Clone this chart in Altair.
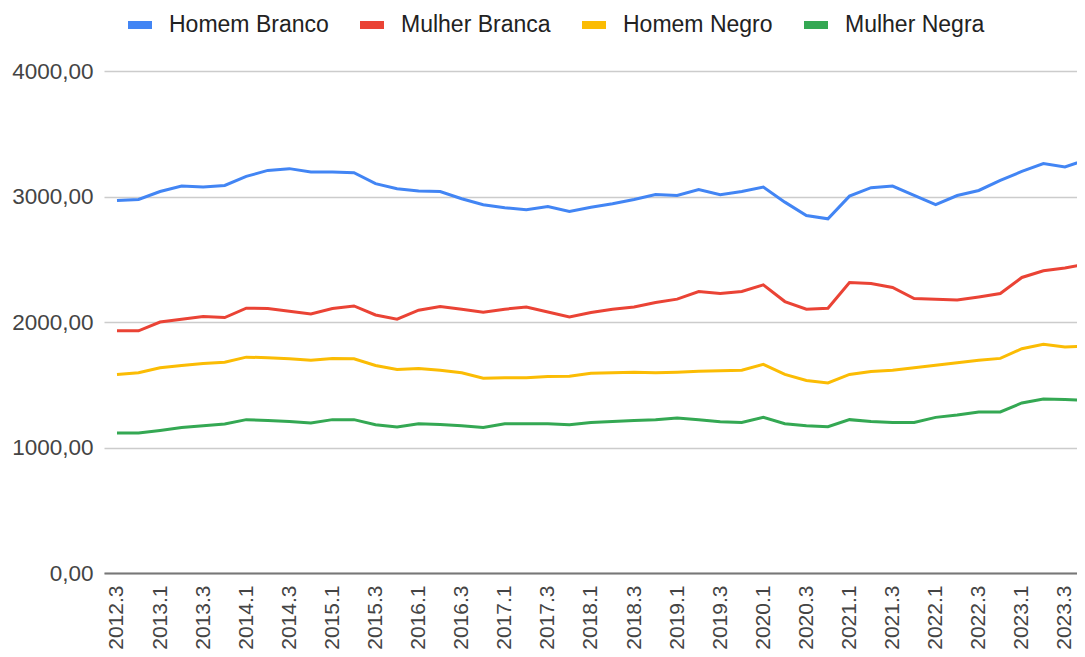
import altair as alt
import pandas as pd

quarters = [
    "2012.3", "2012.4",
    "2013.1", "2013.2", "2013.3", "2013.4",
    "2014.1", "2014.2", "2014.3", "2014.4",
    "2015.1", "2015.2", "2015.3", "2015.4",
    "2016.1", "2016.2", "2016.3", "2016.4",
    "2017.1", "2017.2", "2017.3", "2017.4",
    "2018.1", "2018.2", "2018.3", "2018.4",
    "2019.1", "2019.2", "2019.3", "2019.4",
    "2020.1", "2020.2", "2020.3", "2020.4",
    "2021.1", "2021.2", "2021.3", "2021.4",
    "2022.1", "2022.2", "2022.3", "2022.4",
    "2023.1", "2023.2", "2023.3", "2023.4",
]

homem_branco = [2968, 2976, 3040, 3083, 3075, 3088, 3160, 3208, 3222, 3195,
                3195, 3190, 3102, 3062, 3043, 3040, 2982, 2934, 2910, 2894,
                2920, 2880, 2915, 2942, 2976, 3016, 3008, 3056, 3014, 3040,
                3075, 2955, 2848, 2822, 3003, 3070, 3083, 3008, 2936, 3008,
                3048, 3128, 3200, 3262, 3235, 3294]
mulher_branca = [1930, 1930, 2000, 2022, 2043, 2035, 2110, 2107, 2086, 2064,
                 2107, 2128, 2056, 2022, 2094, 2123, 2102, 2078, 2102, 2120,
                 2080, 2040, 2075, 2102, 2120, 2155, 2182, 2243, 2227, 2243,
                 2296, 2163, 2102, 2110, 2315, 2307, 2275, 2187, 2182, 2176,
                 2200, 2227, 2355, 2408, 2430, 2462]
homem_negro = [1582, 1595, 1635, 1654, 1670, 1680, 1720, 1715, 1707, 1696,
               1710, 1707, 1654, 1622, 1630, 1616, 1595, 1552, 1555, 1555,
               1566, 1568, 1592, 1595, 1600, 1595, 1600, 1608, 1611, 1616,
               1662, 1582, 1534, 1515, 1582, 1606, 1616, 1635, 1656, 1675,
               1696, 1710, 1787, 1822, 1800, 1808]
mulher_negra = [1115, 1115, 1136, 1160, 1174, 1187, 1222, 1216, 1208, 1195,
                1222, 1222, 1182, 1163, 1190, 1184, 1174, 1160, 1190, 1190,
                1190, 1182, 1200, 1208, 1216, 1222, 1235, 1222, 1206, 1200,
                1240, 1190, 1174, 1166, 1222, 1208, 1200, 1200, 1240, 1259,
                1283, 1283, 1355, 1387, 1382, 1374]

series = ["Homem Branco", "Mulher Branca", "Homem Negro", "Mulher Negra"]
colors = ["#4285F4", "#EA4335", "#FBBC04", "#34A853"]
y_ticks = [0, 1000, 2000, 3000, 4000]

rows = []
for name, vals in zip(series, [homem_branco, mulher_branca, homem_negro, mulher_negra]):
    for i, (q, v) in enumerate(zip(quarters, vals)):
        rows.append({"idx": i, "trimestre": q, "serie": name, "valor": v})
df = pd.DataFrame(rows)

label_array = "[" + ",".join("'" + q + "'" for q in quarters) + "]"
FONT = "Liberation Sans"

chart = alt.Chart(df).mark_line(strokeWidth=3, clip=True).encode(
    x=alt.X(
        "idx:Q",
        scale=alt.Scale(domain=[-0.603, 44.56], nice=False, zero=False),
        axis=alt.Axis(
            values=list(range(0, len(quarters), 2)),
            labelExpr=label_array + "[datum.value]",
            labelAngle=-90, labelOverlap=False, labelFlush=False,
            grid=False, ticks=False,
            domain=True, domainColor="#777777", domainWidth=2,
            labelFont=FONT, labelFontSize=21, labelColor="#444444",
            labelPadding=12, title=None,
        ),
    ),
    y=alt.Y(
        "valor:Q",
        scale=alt.Scale(domain=[0, 4000], nice=False),
        axis=alt.Axis(
            values=y_ticks,
            labelExpr="replace(format(datum.value, '.2f'), '.', ',')",
            grid=True, gridColor="#cccccc", gridWidth=1.5,
            ticks=False, domain=False,
            labelFont=FONT, labelFontSize=22.5, labelColor="#444444",
            labelPadding=11, title=None,
        ),
    ),
    color=alt.Color(
        "serie:N",
        scale=alt.Scale(domain=series, range=colors),
        legend=alt.Legend(
            orient="none", legendX=20, legendY=-62, direction="horizontal",
            title=None, symbolType="stroke", symbolSize=576, symbolStrokeWidth=8,
            labelFont=FONT, labelFontSize=23, labelColor="#222222",
            labelOffset=13, columnPadding=15, labelLimit=400, padding=0,
        ),
    ),
).properties(
    width=973, height=502,
    autosize=alt.AutoSizeParams(type="none"),
    padding={"left": 96, "top": 63, "right": 0, "bottom": 84},
    background="white",
).configure_view(stroke=None)

chart.save("out.html", embed_options={"renderer": "svg", "actions": False})
